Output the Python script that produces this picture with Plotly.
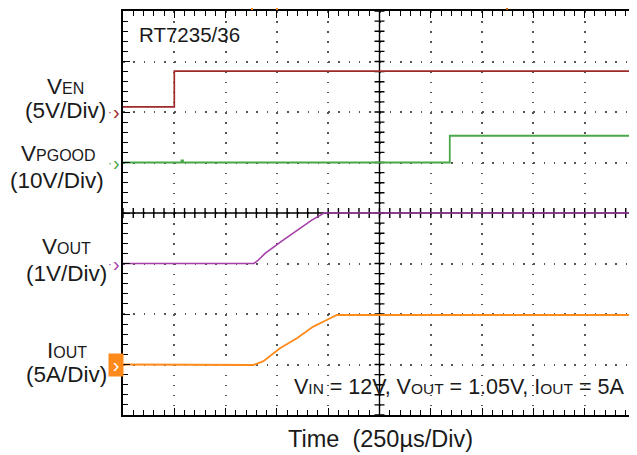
"""Scope capture: RT7235/36 power-up sequence (EN, PGOOD, VOUT, IOUT)."""

import plotly.graph_objects as go

# Screen units: time in divisions (250us/div, 10 div), amplitude in divisions (8 div, 0 at bottom)
VEN_T = [0.0, 1.0, 10.0]
VEN_DIV = [6.1, 6.81, 6.81]

PGOOD_T = [0.0, 1.14, 1.17, 1.22, 6.37, 10.0]
PGOOD_DIV = [5.0, 5.04, 5.0, 5.0, 5.53, 5.53]

VOUT_T = [0.0, 2.55, 2.62, 2.77, 3.06, 3.4, 3.68, 3.92, 10.0]
VOUT_DIV = [3.0, 3.0, 3.05, 3.2, 3.42, 3.66, 3.86, 4.0, 4.0]

IOUT_T = [0.0, 2.54, 2.73, 3.06, 3.39, 3.71, 3.97, 4.17, 10.0]
IOUT_DIV = [1.0, 0.99, 1.06, 1.32, 1.52, 1.75, 1.88, 1.98, 1.98]

# ground reference marker of each channel (div)
REF_DIV = [6, 5, 3, 1]

COLOR_EN = "#9e2a2b"
COLOR_PG = "#4aa84a"
COLOR_VOUT = "#a53fa8"
COLOR_IOUT = "#ff8a1c"
REF_COLORS = [COLOR_EN, COLOR_PG, COLOR_VOUT, COLOR_IOUT]

# the page body has an 8 px margin, so the figure sits 8 px in from the window corner
OFF = 8
W, H = 637 - OFF, 455 - OFF
L, R, T, B = 123 - OFF, 1, 11 - OFF, 40
PW, PH = W - L - R, H - T - B


def px_x(p):
    # window pixel -> paper fraction
    return (p - OFF - L) / PW


def px_y(p):
    return (H - B - (p - OFF)) / PH


def small(s, size=16):
    return f'<span style="font-size:{size}px">{s}</span>'


fig = go.Figure()
fig.add_trace(go.Scatter(x=VEN_T, y=VEN_DIV, mode="lines", line={"color": COLOR_EN, "width": 1.7, "shape": "hv"}))
fig.add_trace(go.Scatter(x=PGOOD_T, y=PGOOD_DIV, mode="lines", line={"color": COLOR_PG, "width": 1.8, "shape": "hv"}))
fig.add_trace(go.Scatter(x=VOUT_T, y=VOUT_DIV, mode="lines", line={"color": COLOR_VOUT, "width": 1.6}))
fig.add_trace(go.Scatter(x=IOUT_T, y=IOUT_DIV, mode="lines", line={"color": COLOR_IOUT, "width": 1.8}))

edge = dict(
    showline=True, linecolor="black", linewidth=2, mirror="ticks",
    ticks="inside", ticklen=7, tickcolor="black", tickwidth=1.2,
    showticklabels=False, zeroline=False, showgrid=True, automargin=False,
    gridcolor="#555555", gridwidth=1.5,
    minor={"dtick": 0.2, "ticks": "inside", "ticklen": 5, "tickcolor": "black", "tickwidth": 1.2, "showgrid": False},
)
fig.update_layout(
    xaxis=dict(**edge, range=[0, 10], dtick=1, tick0=0, griddash="1.5px,8.6px"),
    yaxis=dict(**edge, range=[0, 8], dtick=1, tick0=0, griddash="1.5px,8.76px"),
)

# centre cross-hair with +/- 5 px tick marks every 0.2 div
hx = 5 / (PW / 10)
hy = 5 / (PH / 8)
path_h = "M 0,4 L 10,4 " + " ".join(f"M {k * 0.2:.2f},{4 - hy:.3f} L {k * 0.2:.2f},{4 + hy:.3f}" for k in range(51))
path_v = "M 5,0 L 5,8 " + " ".join(f"M {5 - hx:.3f},{k * 0.2:.2f} L {5 + hx:.3f},{k * 0.2:.2f}" for k in range(41))
shapes = [
    dict(type="path", path=path_h, xref="x", yref="y", layer="between", line={"color": "black", "width": 1.4}),
    dict(type="path", path=path_v, xref="x", yref="y", layer="between", line={"color": "black", "width": 1.4}),
]

font = "Liberation Sans, Arial, sans-serif"
ann = []
labels = [
    ("V" + small("EN"), 65, 87),
    ("(5V/Div)", 65, 110),
    ("V" + small("PGOOD"), 58, 153),
    ("(10V/Div)", 57, 180),
    ("V" + small("OUT"), 66, 246),
    ("(1V/Div)", 66, 273),
    ("I" + small("OUT"), 67, 350),
    ("(5A/Div)", 66, 374),
]
for text, x, y in labels:
    ann.append(dict(text=text, x=px_x(x), y=px_y(y), xref="paper", yref="paper",
                    xanchor="center", yanchor="middle", showarrow=False,
                    font={"size": 22.5, "color": "#1a1a1a", "family": font}))

# channel reference arrows at the left edge
for i, (lvl, col) in enumerate(zip(REF_DIV, REF_COLORS)):
    if i == 3:
        ann.append(dict(text="›", x=px_x(116), y=lvl, xref="paper", yref="y",
                        xanchor="center", yanchor="middle", showarrow=False, bgcolor=col,
                        width=12, height=20, borderpad=1,
                        font={"size": 20, "color": "white", "family": font}))
    else:
        ann.append(dict(text="·", x=px_x(110), y=lvl, xref="paper", yref="y",
                        xanchor="center", yanchor="middle", showarrow=False,
                        font={"size": 12, "color": col, "family": font}))
        ann.append(dict(text="›", x=px_x(116), y=lvl, xref="paper", yref="y",
                        xanchor="center", yanchor="middle", showarrow=False,
                        font={"size": 20, "color": col, "family": font}))

ann.append(dict(text="RT7235/36", x=px_x(137), y=px_y(34), xref="paper", yref="paper",
                xanchor="left", yanchor="middle", showarrow=False,
                font={"size": 20.5, "color": "#1a1a1a", "family": font}))
ann.append(dict(text="V" + small("IN", 15.5) + " = 12V, V" + small("OUT", 15.5) + " = 1.05V, I" + small("OUT", 15.5) + " = 5A",
                x=px_x(626), y=px_y(387), xref="paper", yref="paper",
                xanchor="right", yanchor="middle", showarrow=False,
                font={"size": 21.5, "color": "#1a1a1a", "family": font}))
ann.append(dict(text="Time  (250µs/Div)", x=px_x(380), y=px_y(439), xref="paper", yref="paper",
                xanchor="center", yanchor="middle", showarrow=False,
                font={"size": 23.5, "color": "#1a1a1a", "family": font}))

# small trigger / position markers just above the graticule
for x, col in [(251, COLOR_IOUT), (276, COLOR_IOUT), (506, "#c06000")]:
    shapes.append(dict(type="rect", xref="paper", yref="paper", x0=px_x(x), x1=px_x(x + 2),
                       y0=px_y(10), y1=px_y(8), fillcolor=col, line={"width": 0}))

fig.update_layout(
    width=W, height=H,
    margin={"l": L, "r": R, "t": T, "b": B, "autoexpand": False},
    paper_bgcolor="white", plot_bgcolor="white",
    showlegend=False,
    annotations=ann, shapes=shapes,
    font={"family": font},
)

fig.write_html("out.html")
